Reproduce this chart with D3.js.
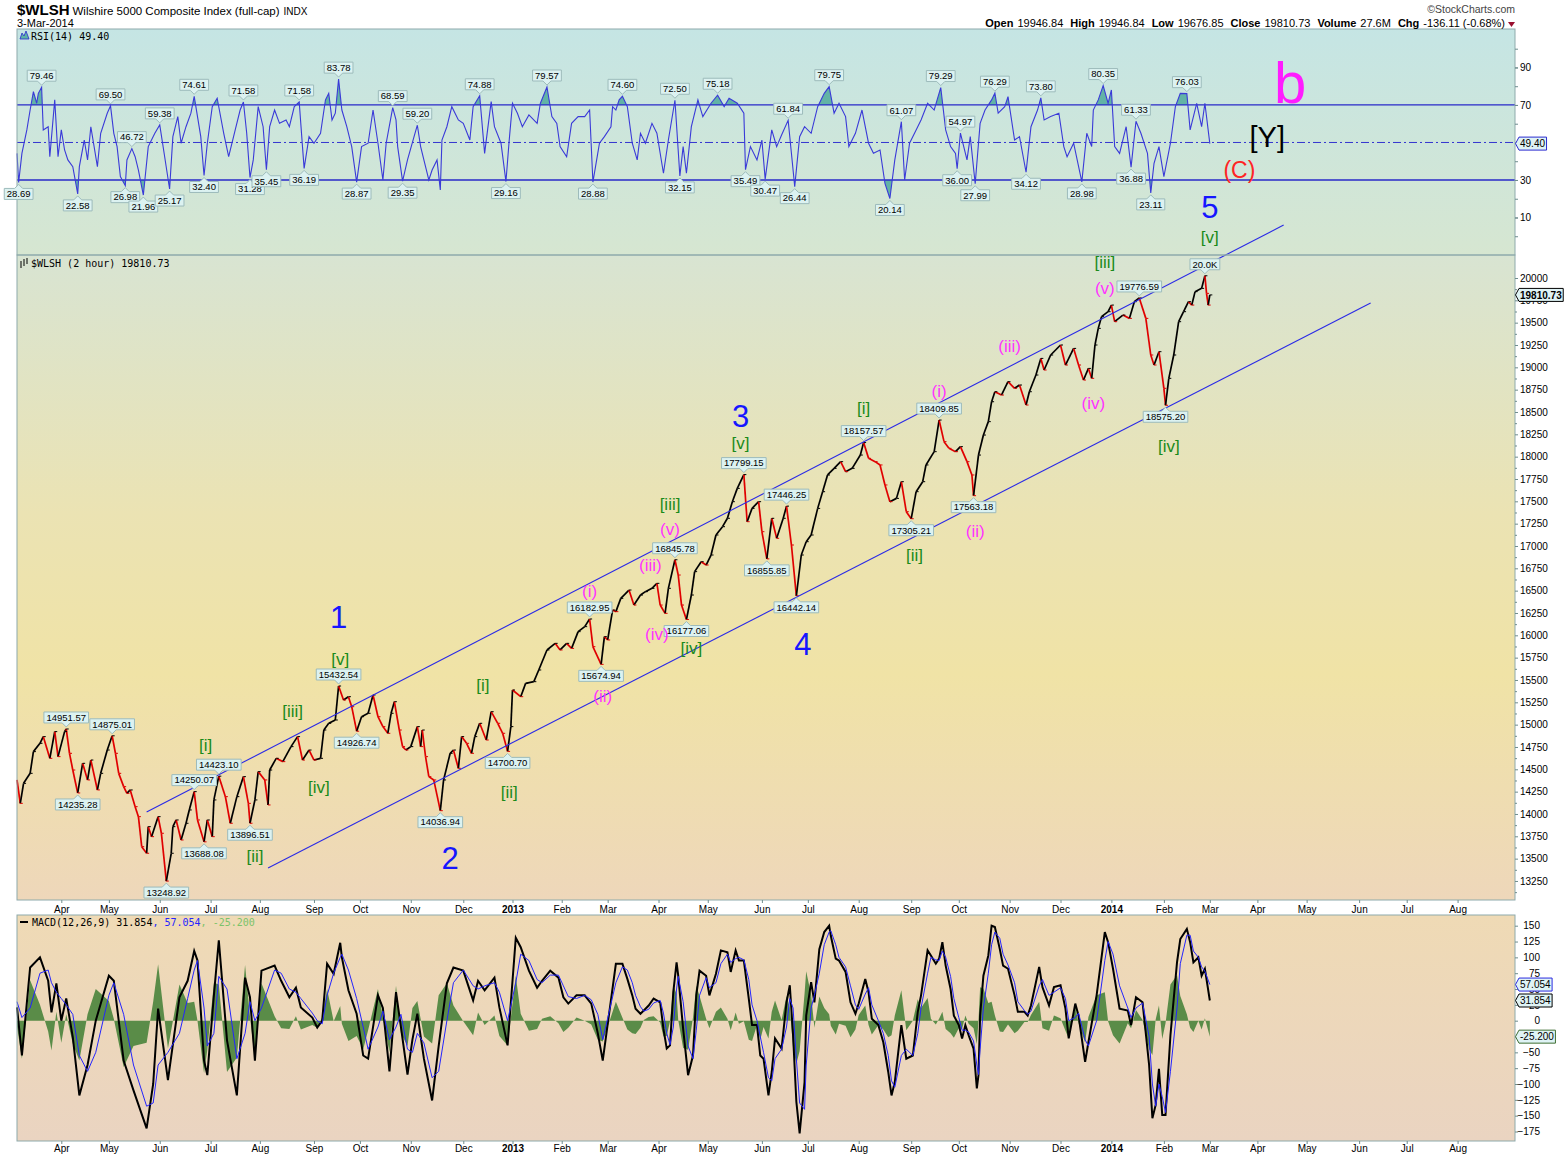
<!DOCTYPE html>
<html>
<head>
<meta charset="utf-8">
<title>$WLSH Wilshire 5000 - 2 hour</title>
<script src="https://d3js.org/d3.v7.min.js"></script>
<style>
  body { margin: 0; background: #fff; }
  svg text { font-family: "Liberation Sans", Arial, sans-serif; }
  .mono { font-family: "DejaVu Sans Mono", monospace; }
</style>
</head>
<body>
<svg id="chart" width="1565" height="1157"></svg>
<script>
// ---- price (2 hour bars) ----
const priceDates = [
  "2012-03-06","2012-03-08","2012-03-10","2012-03-14","2012-03-16","2012-03-20","2012-03-22","2012-03-26","2012-03-29","2012-03-31",
  "2012-04-04","2012-04-05","2012-04-07","2012-04-09","2012-04-12","2012-04-15","2012-04-18","2012-04-20","2012-04-24","2012-04-26",
  "2012-04-30","2012-05-03","2012-05-05","2012-05-07","2012-05-10","2012-05-12","2012-05-14","2012-05-17","2012-05-19","2012-05-21",
  "2012-05-24","2012-05-25","2012-05-27","2012-05-31","2012-06-02","2012-06-05","2012-06-08","2012-06-09","2012-06-11","2012-06-14",
  "2012-06-17","2012-06-19","2012-06-22","2012-06-24","2012-06-28","2012-06-30","2012-07-03","2012-07-04","2012-07-07","2012-07-11",
  "2012-07-14","2012-07-18","2012-07-22","2012-07-25","2012-07-26","2012-07-29","2012-07-31","2012-08-04","2012-08-06","2012-08-07",
  "2012-08-11","2012-08-15","2012-08-20","2012-08-24","2012-08-27","2012-08-31","2012-09-03","2012-09-07","2012-09-09","2012-09-12",
  "2012-09-16","2012-09-18","2012-09-21","2012-09-24","2012-09-26","2012-09-29","2012-10-02","2012-10-06","2012-10-09","2012-10-12",
  "2012-10-15","2012-10-18","2012-10-20","2012-10-22","2012-10-25","2012-10-27","2012-10-29","2012-11-01","2012-11-05","2012-11-07",
  "2012-11-08","2012-11-10","2012-11-12","2012-11-15","2012-11-19","2012-11-21","2012-11-25","2012-11-27","2012-11-30","2012-12-02",
  "2012-12-05","2012-12-08","2012-12-10","2012-12-13","2012-12-17","2012-12-20","2012-12-24","2012-12-27","2012-12-30","2013-01-01",
  "2013-01-02","2013-01-07","2013-01-10","2013-01-15","2013-01-18","2013-01-23","2013-01-28","2013-01-31","2013-02-04","2013-02-07",
  "2013-02-11","2013-02-15","2013-02-18","2013-02-20","2013-02-25","2013-02-27","2013-03-01","2013-03-04","2013-03-06","2013-03-09",
  "2013-03-14","2013-03-17","2013-03-21","2013-03-24","2013-03-28","2013-03-31","2013-04-02","2013-04-05","2013-04-07","2013-04-11",
  "2013-04-13","2013-04-15","2013-04-18","2013-04-21","2013-04-23","2013-04-27","2013-04-30","2013-05-03","2013-05-06","2013-05-10",
  "2013-05-13","2013-05-16","2013-05-19","2013-05-23","2013-05-25","2013-05-28","2013-06-01","2013-06-03","2013-06-06","2013-06-09",
  "2013-06-12","2013-06-16","2013-06-18","2013-06-21","2013-06-24","2013-06-27","2013-06-30","2013-07-03","2013-07-07","2013-07-10",
  "2013-07-13","2013-07-17","2013-07-21","2013-07-24","2013-07-28","2013-08-02","2013-08-04","2013-08-07","2013-08-11","2013-08-14",
  "2013-08-17","2013-08-20","2013-08-24","2013-08-27","2013-08-30","2013-09-02","2013-09-05","2013-09-09","2013-09-11","2013-09-16",
  "2013-09-19","2013-09-22","2013-09-25","2013-09-29","2013-10-02","2013-10-06","2013-10-09","2013-10-10","2013-10-13","2013-10-16",
  "2013-10-19","2013-10-21","2013-10-23","2013-10-27","2013-10-31","2013-11-04","2013-11-07","2013-11-11","2013-11-13","2013-11-17",
  "2013-11-20","2013-11-22","2013-11-26","2013-12-02","2013-12-05","2013-12-10","2013-12-13","2013-12-16","2013-12-19","2013-12-21",
  "2013-12-23","2013-12-25","2013-12-27","2013-12-31","2014-01-02","2014-01-04","2014-01-09","2014-01-13","2014-01-16","2014-01-19",
  "2014-01-23","2014-01-26","2014-01-28","2014-01-31","2014-02-03","2014-02-04","2014-02-06","2014-02-09","2014-02-12","2014-02-15",
  "2014-02-18","2014-02-20","2014-02-22","2014-02-26","2014-02-28","2014-03-01","2014-03-02","2014-03-03"
];
const priceClose = [
  14381,14119,14343,14455,14698,14791,14866,14623,14922,14642,
  14922,14951.57,14679,14492,14235.28,14567,14381,14604,14269,14455,
  14716,14875.01,14679,14455,14306,14231,14269,14082,13970,13634,
  13560,13858,13746,13970,13784,13248.92,13560,13858,13933,13709,
  13896,14045,14250.07,13933,13688.08,13933,13746,14157,14423.10,14194,
  13896,14194,14418,14119,13896.51,14157,14474,14381,14101,14492,
  14623,14586,14754,14866,14604,14716,14604,14623,14940,15015,
  15052,15432.54,15276,15313,15201,14926.74,15089,15127,15332,15089,
  14978,14903,15127,15257,14940,14754,14716,14754,14978,14754,
  14940,14642,14418,14381,14036.94,14381,14679,14716,14511,14866,
  14791,14679,14866,15015,14828,15145,15015,14903,14700.70,14978,
  15388,15313,15462,15481,15612,15836,15910,15836,15910,15854,
  16041,16097,16182.95,15873,15674.94,15985,15948,16283,16265,16414,
  16507,16339,16451,16489,16526,16582,16339,16246,16526,16845.78,
  16675,16339,16177.06,16451,16713,16824,16787,16899,17123,17216,
  17310,17496,17645,17799.15,17272,17421,17496,17160,16855.85,17310,
  17086,17310,17446.25,17011,16442.14,16899,17048,17123,17421,17608,
  17795,17869,17944,17832,17869,18018,18157.57,17981,17944,17907,
  17683,17496,17533,17720,17384,17305.21,17608,17720,17907,18056,
  18409.85,18168,18093,18056,18112,17944,17795,17563.18,18018,18242,
  18392,18615,18727,18690,18839,18765,18802,18578,18727,18914,
  19100,18970,19138,19250,19026,19212,19026,18858,18988,18877,
  19250,19436,19567,19623,19697,19511,19585,19548,19735,19776.59,
  19548,19138,19026,19175,18765,18575.20,18877,19138,19511,19623,
  19735,19697,19847,19884,20025,19828,19697,19810.73
];
// labelled pivots on the price pane (h = label above, l = label below)
const priceTagDates = ["2012-04-05","2012-04-12","2012-05-03","2012-06-05","2012-06-22","2012-06-28","2012-07-07","2012-07-26",
  "2012-09-18","2012-09-29","2012-11-19","2012-12-30","2013-02-18","2013-02-25","2013-04-11","2013-04-18","2013-05-23",
  "2013-06-06","2013-06-18","2013-06-24","2013-08-04","2013-09-02","2013-09-19","2013-10-10","2014-01-19","2014-02-04","2014-02-28"];
const priceTagSide = ["h","l","h","l","h","l","h","l","h","l","l","l","h","l","h","l","h","l","h","l","h","l","h","l","h","l","h"];

// ---- RSI(14) ----
const rsiDates = [
  "2012-03-06","2012-03-07","2012-03-09","2012-03-12","2012-03-14","2012-03-16","2012-03-18","2012-03-19","2012-03-21","2012-03-22",
  "2012-03-25","2012-03-26","2012-03-29","2012-03-31","2012-04-02","2012-04-04","2012-04-06","2012-04-09","2012-04-12","2012-04-13",
  "2012-04-16","2012-04-18","2012-04-20","2012-04-24","2012-04-26","2012-04-30","2012-05-02","2012-05-04","2012-05-06","2012-05-08",
  "2012-05-11","2012-05-12","2012-05-15","2012-05-17","2012-05-19","2012-05-22","2012-05-25","2012-05-29","2012-06-01","2012-06-04",
  "2012-06-07","2012-06-09","2012-06-12","2012-06-14","2012-06-17","2012-06-20","2012-06-22","2012-06-26","2012-06-28","2012-06-30",
  "2012-07-03","2012-07-06","2012-07-10","2012-07-13","2012-07-17","2012-07-20","2012-07-22","2012-07-24","2012-07-26","2012-07-28",
  "2012-07-31","2012-08-03","2012-08-05","2012-08-07","2012-08-10","2012-08-13","2012-08-17","2012-08-19","2012-08-22","2012-08-25",
  "2012-08-27","2012-08-28","2012-08-31","2012-09-03","2012-09-07","2012-09-10","2012-09-12","2012-09-14","2012-09-16","2012-09-18",
  "2012-09-20","2012-09-23","2012-09-26","2012-09-29","2012-10-02","2012-10-06","2012-10-09","2012-10-12","2012-10-15","2012-10-17",
  "2012-10-21","2012-10-23","2012-10-24","2012-10-27","2012-10-30","2012-11-03","2012-11-05","2012-11-07","2012-11-10","2012-11-12",
  "2012-11-14","2012-11-17","2012-11-19","2012-11-20","2012-11-23","2012-11-26","2012-11-30","2012-12-03","2012-12-07","2012-12-09",
  "2012-12-13","2012-12-16","2012-12-20","2012-12-22","2012-12-26","2012-12-29","2012-12-31","2013-01-02","2013-01-05","2013-01-08",
  "2013-01-12","2013-01-17","2013-01-19","2013-01-23","2013-01-26","2013-01-29","2013-01-31","2013-02-04","2013-02-07","2013-02-11",
  "2013-02-15","2013-02-18","2013-02-20","2013-02-24","2013-02-27","2013-03-03","2013-03-04","2013-03-06","2013-03-08","2013-03-10",
  "2013-03-13","2013-03-16","2013-03-19","2013-03-21","2013-03-24","2013-03-28","2013-03-31","2013-04-04","2013-04-07","2013-04-11",
  "2013-04-14","2013-04-16","2013-04-18","2013-04-21","2013-04-25","2013-04-28","2013-05-03","2013-05-07","2013-05-11","2013-05-14",
  "2013-05-19","2013-05-23","2013-05-24","2013-05-27","2013-05-31","2013-06-03","2013-06-05","2013-06-09","2013-06-12","2013-06-15",
  "2013-06-19","2013-06-22","2013-06-23","2013-06-26","2013-06-29","2013-07-03","2013-07-07","2013-07-11","2013-07-14","2013-07-17",
  "2013-07-20","2013-07-24","2013-07-26","2013-07-30","2013-08-03","2013-08-07","2013-08-10","2013-08-14","2013-08-17","2013-08-20",
  "2013-08-23","2013-08-27","2013-08-29","2013-09-01","2013-09-05","2013-09-08","2013-09-12","2013-09-16","2013-09-20","2013-09-23",
  "2013-09-26","2013-09-29","2013-09-30","2013-10-02","2013-10-06","2013-10-08","2013-10-11","2013-10-14","2013-10-17","2013-10-21",
  "2013-10-23","2013-10-25","2013-10-29","2013-10-31","2013-11-04","2013-11-07","2013-11-11","2013-11-14","2013-11-18","2013-11-20",
  "2013-11-22","2013-11-26","2013-12-01","2013-12-04","2013-12-06","2013-12-10","2013-12-15","2013-12-18","2013-12-21","2013-12-22",
  "2013-12-25","2013-12-28","2013-12-31","2014-01-02","2014-01-04","2014-01-07","2014-01-11","2014-01-14","2014-01-17","2014-01-20",
  "2014-01-24","2014-01-26","2014-01-28","2014-01-31","2014-02-03","2014-02-07","2014-02-10","2014-02-13","2014-02-17","2014-02-19",
  "2014-02-23","2014-02-26","2014-02-28","2014-03-03"
];
const rsiValues = [
  44.2,28.69,44.2,56.7,67.3,77.1,70.9,76.2,79.46,56.7,
  58.4,42.4,72.7,42.4,56.7,46.0,40.7,37.1,22.58,37.1,
  51.3,40.7,58.4,37.1,54.9,65.6,69.50,54.9,47.8,31.8,
  26.98,40.7,46.72,42.4,35.3,21.96,47.8,54.9,59.38,42.4,
  25.17,53.1,63.8,49.6,58.4,65.6,74.61,53.1,32.40,49.6,
  69.1,73.6,54.9,42.4,56.7,67.3,71.58,54.9,31.28,40.7,
  69.1,58.4,35.45,58.4,67.3,60.2,62.0,58.4,69.1,71.58,
  47.8,36.19,53.1,49.6,54.9,72.7,76.2,62.0,65.6,83.78,
  67.3,58.4,47.8,28.87,47.8,49.6,67.3,49.6,30.0,49.6,
  68.59,62.0,47.8,29.35,40.7,53.1,59.20,47.8,37.1,30.0,
  35.3,40.7,24.7,51.3,58.4,69.1,62.0,60.2,51.3,69.1,
  74.88,44.2,71.8,58.4,49.6,29.16,51.3,70.9,65.6,58.4,
  64.7,60.2,70.9,79.57,63.8,60.2,47.8,42.4,60.2,63.8,
  63.8,67.3,28.88,49.6,53.1,58.4,69.1,67.3,72.7,74.60,
  69.1,49.6,40.7,54.9,49.6,60.2,54.9,33.6,51.3,72.50,
  32.15,47.8,33.6,58.4,72.7,63.8,70.9,75.18,69.1,73.6,
  70.9,65.6,35.49,47.8,40.7,51.3,30.47,56.7,47.8,54.0,
  61.84,35.3,26.44,53.1,58.4,54.9,69.1,76.2,79.75,65.6,
  70.9,63.8,47.8,54.9,67.3,49.6,44.2,46.0,28.2,20.14,
  40.7,61.07,30.0,49.6,56.7,62.0,70.9,67.3,79.29,56.7,
  47.8,44.2,36.00,54.97,40.7,53.1,27.99,60.2,67.3,72.7,
  76.29,65.6,69.1,74.4,51.3,53.1,34.12,58.4,67.3,73.80,
  62.0,63.8,65.6,47.8,42.4,49.6,28.98,54.9,47.8,67.3,
  72.7,80.35,70.9,78.0,47.8,44.2,58.4,36.88,61.33,54.9,
  44.2,23.11,38.9,47.8,31.8,49.6,69.1,76.2,76.03,56.7,
  70.9,58.4,70.9,49.40
];
const rsiTagDates = ["2012-03-07","2012-03-21","2012-04-12","2012-05-02","2012-05-11","2012-05-15","2012-05-22","2012-06-01","2012-06-07",
  "2012-06-22","2012-06-28","2012-07-22","2012-07-26","2012-08-05","2012-08-25","2012-08-28","2012-09-18","2012-09-29","2012-10-21",
  "2012-10-27","2012-11-05","2012-12-13","2012-12-29","2013-01-23","2013-02-20","2013-03-10","2013-04-11","2013-04-14","2013-05-07",
  "2013-05-24","2013-06-05","2013-06-19","2013-06-23","2013-07-14","2013-08-20","2013-08-27","2013-09-20","2013-09-30","2013-10-02",
  "2013-10-11","2013-10-23","2013-11-11","2013-11-20","2013-12-15","2013-12-28","2014-01-14","2014-01-17","2014-01-26","2014-02-17"];
const rsiTagSide = ["l","h","l","h","l","h","l","h","l",
  "h","l","h","l","l","h","l","h","l","h",
  "l","h","h","l","h","l","h","h","l","h",
  "l","l","h","l","h","l","h","h","l","h",
  "l","h","l","h","l","h","l","h","l","h"];

// ---- MACD(12,26,9) line and signal ----
const macdDates = [
  "2012-03-06","2012-03-09","2012-03-14","2012-03-20","2012-03-25","2012-03-27","2012-03-30","2012-04-02","2012-04-05","2012-04-09",
  "2012-04-13","2012-04-18","2012-04-23","2012-05-01","2012-05-04","2012-05-10","2012-05-16","2012-05-24","2012-05-28","2012-05-31",
  "2012-06-06","2012-06-13","2012-06-18","2012-06-22","2012-06-24","2012-06-28","2012-06-30","2012-07-04","2012-07-07","2012-07-12",
  "2012-07-18","2012-07-23","2012-07-26","2012-07-29","2012-08-02","2012-08-10","2012-08-14","2012-08-19","2012-08-23","2012-08-26",
  "2012-09-02","2012-09-05","2012-09-08","2012-09-11","2012-09-15","2012-09-19","2012-09-20","2012-09-24","2012-09-29","2012-10-03",
  "2012-10-06","2012-10-12","2012-10-15","2012-10-19","2012-10-23","2012-10-26","2012-10-30","2012-11-02","2012-11-05","2012-11-09",
  "2012-11-14","2012-11-18","2012-11-23","2012-11-27","2012-12-03","2012-12-09","2012-12-12","2012-12-16","2012-12-22","2012-12-25",
  "2012-12-30","2013-01-04","2013-01-07","2013-01-12","2013-01-17","2013-01-20","2013-01-25","2013-01-30","2013-02-02","2013-02-05",
  "2013-02-10","2013-02-15","2013-02-19","2013-02-23","2013-02-26","2013-03-06","2013-03-10","2013-03-13","2013-03-16","2013-03-18",
  "2013-03-21","2013-03-23","2013-03-26","2013-03-29","2013-04-02","2013-04-04","2013-04-06","2013-04-08","2013-04-10","2013-04-12",
  "2013-04-13","2013-04-16","2013-04-19","2013-04-22","2013-04-24","2013-04-26","2013-04-30","2013-05-02","2013-05-06","2013-05-09",
  "2013-05-13","2013-05-15","2013-05-18","2013-05-20","2013-05-23","2013-05-26","2013-05-28","2013-05-31","2013-06-02","2013-06-04",
  "2013-06-07","2013-06-09","2013-06-11","2013-06-15","2013-06-18","2013-06-20","2013-06-22","2013-06-24","2013-06-26","2013-06-29",
  "2013-06-30","2013-07-03","2013-07-05","2013-07-08","2013-07-11","2013-07-14","2013-07-15","2013-07-18","2013-07-20","2013-07-24",
  "2013-07-27","2013-07-30","2013-08-01","2013-08-05","2013-08-07","2013-08-09","2013-08-13","2013-08-16","2013-08-19","2013-08-21",
  "2013-08-23","2013-08-27","2013-08-30","2013-09-03","2013-09-06","2013-09-08","2013-09-12","2013-09-14","2013-09-17","2013-09-19",
  "2013-09-21","2013-09-23","2013-09-26","2013-09-28","2013-10-01","2013-10-03","2013-10-05","2013-10-07","2013-10-10","2013-10-12",
  "2013-10-13","2013-10-14","2013-10-16","2013-10-19","2013-10-21","2013-10-23","2013-10-26","2013-10-28","2013-10-31","2013-11-04",
  "2013-11-06","2013-11-10","2013-11-12","2013-11-14","2013-11-19","2013-11-21","2013-11-25","2013-11-28","2013-12-02","2013-12-05",
  "2013-12-07","2013-12-11","2013-12-13","2013-12-17","2013-12-19","2013-12-24","2013-12-29","2013-12-31","2014-01-03","2014-01-07",
  "2014-01-12","2014-01-14","2014-01-17","2014-01-21","2014-01-25","2014-01-27","2014-01-29","2014-01-31","2014-02-02","2014-02-04",
  "2014-02-07","2014-02-11","2014-02-13","2014-02-17","2014-02-19","2014-02-21","2014-02-24","2014-02-26","2014-02-28","2014-03-03"
];
const macdValues = [
  21,-55,84,100,63,13,59,0,35,-26,
  -118,-70,0,71,63,-63,-110,-170,-100,19,
  -94,37,63,110,95,-63,-86,40,127,-31,
  -118,68,37,-63,79,87,63,37,52,21,
  5,-11,0,90,74,123,100,48,11,-55,
  -60,40,20,-80,45,-10,-85,-30,11,-60,
  -126,-40,59,84,79,32,63,48,68,21,
  -39,131,116,79,52,63,79,68,37,27,
  40,40,27,-20,-63,89.8,89.8,66,40,19,
  11,16,24,35,29,-13,-44,-39,45,92,
  71,-13,-86,-55,40,79,71,40,74,111,
  108,77,111,95,95,35,-7,-7,-55,-60,
  -118,-81,-28,-44,29,56,-23,-128,-178,-97,
  8,61,29,113,140,150,134,98,95,77,
  29,11,27,66,45,3,-7,-34,-81,-118,
  -97,-7,-60,-55,14,40,111,103,90,98,
  124,87,50,8,-7,-28,-7,-23,-44,-107,
  -86,8,71,103,150,148,113,87,82,40,
  14,14,8,24,85,53,24,53,56,19,
  -28,27,8,-65,-34,40,140,124,82,19,
  16,-7,37,29,-70,-154,-133,-76,-149,-149,
  -23,92,129,145,124,92,100,71,82,31.854
];
const signalValues = [
  30,5,20,75,80,60,45,35,25,10,
  -55,-80,-50,40,60,10,-70,-135,-130,-70,
  -50,-20,35,80,95,20,-40,-20,70,50,
  -60,-20,30,0,20,80,75,50,45,35,
  12,0,-5,40,75,100,105,80,35,-10,
  -45,-10,15,-30,-10,10,-45,-50,-20,-35,
  -90,-80,0,60,80,55,50,55,60,45,
  0,60,105,95,65,60,72,72,55,38,
  35,40,33,10,-30,60,85,80,60,40,
  22,15,18,28,32,12,-20,-38,-10,50,
  70,30,-40,-60,-15,40,68,52,60,90,
  105,92,98,100,96,65,25,0,-25,-50,
  -90,-95,-60,-45,-10,35,20,-60,-130,-140,
  -70,20,40,75,120,140,142,120,100,85,
  55,25,18,42,52,25,0,-20,-55,-95,
  -105,-55,-45,-55,-20,20,75,100,96,95,
  110,100,70,35,5,-15,-15,-18,-32,-70,
  -85,-45,20,75,120,140,130,105,88,60,
  30,16,10,15,55,65,40,45,52,35,
  0,5,12,-30,-40,0,95,125,105,55,
  20,5,20,28,-25,-100,-135,-100,-120,-145,
  -80,20,90,135,135,110,100,85,78,57.054
];

// ---- Elliott wave notes and channel ----
const waveDates = ["2012-09-18","2012-09-19","2012-08-21","2012-06-29","2012-07-29","2012-09-06","2012-11-25","2012-12-15","2012-12-31",
  "2013-02-18","2013-02-26","2013-03-27","2013-03-31","2013-04-08","2013-04-08","2013-04-21","2013-05-21","2013-05-21","2013-06-28",
  "2013-08-04","2013-09-04","2013-09-19","2013-10-11","2013-11-01","2013-12-22","2013-12-29","2013-12-29","2014-02-06","2014-03-03",
  "2014-03-03","2014-04-07","2014-03-21","2014-04-21"];
const wavePrices = [16205,15724,15142,14772,13519,14291,13507,15433,14246,
  16485,15310,16776,16004,17179,17470,15858,18444,18142,15892,
  18534,16888,18724,17157,19228,18590,19877,20168,18119,20784,
  20459,21578,21209,22183];
const waveLabels = ["1","[v]","[iii]","[i]","[ii]","[iv]","2","[i]","[ii]",
  "(i)","(ii)","(iii)","(iv)","(v)","[iii]","[iv]","3","[v]","4",
  "[i]","[ii]","(i)","(ii)","(iii)","(iv)","(v)","[iii]","[iv]","5",
  "[v]","[Y]","(C)","b"];
const channelStartDates = ["2012-05-24","2012-08-06"];
const channelStartPrices = [14022, 13396];
const channelEndDates = ["2014-04-17","2014-06-09"];
const channelEndPrices = [20593, 19720];

// axis ticks
const priceTicks = [13250,13500,13750,14000,14250,14500,14750,15000,15250,15500,15750,16000,16250,16500,16750,
  17000,17250,17500,17750,18000,18250,18500,18750,19000,19250,19500,19750,20000];
const rsiTicks = [10,30,70,90];
const rsiMinor = [0,10,20,30,40,50,60,70,80,90,100];
const macdTicks = [-175,-150,-125,-100,-75,-50,-25,0,25,50,75,100,125,150];

// ---------------------------------------------------------------
const parse = d3.timeParse("%Y-%m-%d");
const svg = d3.select("#chart");
const L = 17, R = 1515;
const rsiTop = 29, rsiBot = 255, pTop = 255, pBot = 900, mTop = 915, mBot = 1141;

const x = d3.scaleTime().domain([new Date(2012, 2, 6), new Date(2014, 8, 5)]).range([L, R]);
const yR = d3.scaleLinear().domain([-10, 110.5]).range([rsiBot, rsiTop]);
const yP = d3.scaleLinear().domain([13037, 20257.5]).range([pBot, pTop]);
const yM = d3.scaleLinear().domain([-190, 166.9]).range([mBot, mTop]);

const price = priceDates.map((d, i) => ({ d: parse(d), v: priceClose[i] }));
const rsi = rsiDates.map((d, i) => ({ d: parse(d), v: rsiValues[i] }));
const macd = macdDates.map((d, i) => ({ d: parse(d), m: macdValues[i], s: signalValues[i], h: macdValues[i] - signalValues[i] }));
const priceByDate = new Map(priceDates.map((d, i) => [d, priceClose[i]]));
const rsiByDate = new Map(rsiDates.map((d, i) => [d, rsiValues[i]]));

// backgrounds
const defs = svg.append("defs");
function vgrad(id, stops) {
  const g = defs.append("linearGradient").attr("id", id).attr("x1", 0).attr("y1", 0).attr("x2", 0).attr("y2", 1);
  stops.forEach(s => g.append("stop").attr("offset", s[0]).attr("stop-color", s[1]));
}
vgrad("gRsi", [[0, "#c5e5e4"], [1, "#d6e6d1"]]);
vgrad("gPrice", [[0, "#d8e4d2"], [0.4, "#ebe3b3"], [0.65, "#f0e3a6"], [1, "#eed7ba"]]);
vgrad("gMacd", [[0, "#efdab5"], [1, "#ead4c1"]]);

svg.append("rect").attr("x", L).attr("y", rsiTop).attr("width", R - L).attr("height", rsiBot - rsiTop).attr("fill", "url(#gRsi)");
svg.append("rect").attr("x", L).attr("y", pTop).attr("width", R - L).attr("height", pBot - pTop).attr("fill", "url(#gPrice)");
svg.append("rect").attr("x", L).attr("y", mTop).attr("width", R - L).attr("height", mBot - mTop).attr("fill", "url(#gMacd)");

// ---------------- RSI pane ----------------
defs.append("clipPath").attr("id", "above70").append("rect")
  .attr("x", L).attr("y", rsiTop).attr("width", R - L).attr("height", yR(70) - rsiTop);
defs.append("clipPath").attr("id", "below30").append("rect")
  .attr("x", L).attr("y", yR(30)).attr("width", R - L).attr("height", rsiBot - yR(30));

svg.append("path").datum(rsi).attr("clip-path", "url(#above70)").attr("fill", "#62b3a6")
  .attr("d", d3.area().x(d => x(d.d)).y0(yR(70)).y1(d => yR(d.v)));
svg.append("path").datum(rsi).attr("clip-path", "url(#below30)").attr("fill", "#62b3a6")
  .attr("d", d3.area().x(d => x(d.d)).y0(yR(30)).y1(d => yR(d.v)));

[70, 30].forEach(v => svg.append("line").attr("x1", L).attr("x2", R).attr("y1", yR(v)).attr("y2", yR(v))
  .attr("stroke", "#2828c8").attr("stroke-width", 1.3));
svg.append("line").attr("x1", L).attr("x2", R).attr("y1", yR(50)).attr("y2", yR(50))
  .attr("stroke", "#3434d0").attr("stroke-width", 1).attr("stroke-dasharray", "8,3,2,3");

svg.append("path").datum(rsi).attr("fill", "none").attr("stroke", "#3a3ad8").attr("stroke-width", 1.1)
  .attr("d", d3.line().x(d => x(d.d)).y(d => yR(d.v)));

// ---------------- price pane ----------------
const pg = svg.append("g");
pg.selectAll("line.seg").data(d3.pairs(price)).join("line").attr("class", "seg")
  .attr("x1", p => x(p[0].d)).attr("y1", p => yP(p[0].v))
  .attr("x2", p => x(p[1].d)).attr("y2", p => yP(p[1].v))
  .attr("stroke", p => p[1].v >= p[0].v ? "#000" : "#e00000").attr("stroke-width", 1.7);
pg.selectAll("line.tk").data(d3.pairs(price)).join("line").attr("class", "tk")
  .attr("x1", p => x(p[1].d)).attr("x2", p => x(p[1].d) + 2.5)
  .attr("y1", p => yP(p[1].v)).attr("y2", p => yP(p[1].v))
  .attr("stroke", p => p[1].v >= p[0].v ? "#000" : "#e00000").attr("stroke-width", 1);

// channel lines
channelStartDates.forEach((d, i) => {
  svg.append("line")
    .attr("x1", x(parse(d))).attr("y1", yP(channelStartPrices[i]))
    .attr("x2", x(parse(channelEndDates[i]))).attr("y2", yP(channelEndPrices[i]))
    .attr("stroke", "#2a2ae6").attr("stroke-width", 1.1);
});

// ---------------- MACD pane ----------------
svg.append("path").datum(macd).attr("fill", "#5a8c48")
  .attr("d", d3.area().x(d => x(d.d)).y0(yM(0)).y1(d => yM(d.h)));
svg.append("path").datum(macd).attr("fill", "none").attr("stroke", "#000").attr("stroke-width", 2)
  .attr("d", d3.line().x(d => x(d.d)).y(d => yM(d.m)));
svg.append("path").datum(macd).attr("fill", "none").attr("stroke", "#2424ff").attr("stroke-width", 1)
  .attr("d", d3.line().x(d => x(d.d)).y(d => yM(d.s)));

// panel borders
[[rsiTop, rsiBot], [pTop, pBot], [mTop, mBot]].forEach(b => {
  svg.append("rect").attr("x", L).attr("y", b[0]).attr("width", R - L).attr("height", b[1] - b[0])
    .attr("fill", "none").attr("stroke", "#8eaaab").attr("stroke-width", 1);
});

// ---------------- value tags ----------------
function tag(g, cx, cy, label, side) {
  const grp = g.append("g");
  const t = grp.append("text").attr("x", cx).attr("text-anchor", "middle").attr("font-size", 9.5).attr("fill", "#000").text(label);
  const w = t.node().getComputedTextLength() + 5, h = 11, p = 4;
  const boxY = side === "h" ? cy - 2 - p - h : cy + 2 + p;
  const x0 = cx - w / 2, x1 = cx + w / 2;
  const pts = side === "h"
    ? [[x0, boxY], [x1, boxY], [x1, boxY + h], [cx + p, boxY + h], [cx, boxY + h + p], [cx - p, boxY + h], [x0, boxY + h]]
    : [[x0, boxY], [cx - p, boxY], [cx, boxY - p], [cx + p, boxY], [x1, boxY], [x1, boxY + h], [x0, boxY + h]];
  grp.insert("polygon", "text").attr("points", pts.map(q => q.join(",")).join(" "))
    .attr("fill", "#dcf2f1").attr("stroke", "#9dbbbb").attr("stroke-width", 1);
  t.attr("y", boxY + h - 2.2);
}
const tagLayer = svg.append("g");
priceTagDates.forEach((d, i) => {
  const v = priceByDate.get(d);
  const label = v >= 20000 ? (v / 1000).toFixed(1) + "K" : v.toFixed(2);
  tag(tagLayer, x(parse(d)), yP(v), label, priceTagSide[i]);
});
rsiTagDates.forEach((d, i) => {
  const v = rsiByDate.get(d);
  tag(tagLayer, x(parse(d)), yR(v), v.toFixed(2), rsiTagSide[i]);
});

// ---------------- wave labels ----------------
function waveStyle(s) {
  if (/^\d$/.test(s)) return { fill: "#1616ff", size: 31 };
  if (s === "[Y]") return { fill: "#000", size: 29 };
  if (s === "(C)") return { fill: "#ff2424", size: 23 };
  if (s === "b") return { fill: "#ff1cff", size: 58 };
  if (s[0] === "[") return { fill: "#1a8a1a", size: 17 };
  return { fill: "#ff33ff", size: 17 };
}
waveLabels.forEach((s, i) => {
  const st = waveStyle(s);
  svg.append("text").attr("x", x(parse(waveDates[i]))).attr("y", yP(wavePrices[i]))
    .attr("text-anchor", "middle").attr("dominant-baseline", "central")
    .attr("font-size", st.size).attr("fill", st.fill).text(s);
});

// ---------------- axes ----------------
function styleAxis(g) {
  g.select(".domain").remove();
  g.attr("font-family", "Liberation Sans, Arial, sans-serif").attr("font-size", 10);
  g.selectAll(".tick line").attr("stroke", "#6f8d8e");
  g.selectAll(".tick text").attr("fill", "#000");
}
// price axis
svg.append("g").attr("transform", `translate(${R},0)`)
  .call(d3.axisRight(yP).tickValues(priceTicks.map(v => v - 125).filter(v => v > 13037)).tickSize(2).tickFormat(""))
  .call(styleAxis);
svg.append("g").attr("transform", `translate(${R},0)`)
  .call(d3.axisRight(yP).tickValues(priceTicks).tickSize(3).tickPadding(2).tickFormat(d3.format("d")))
  .call(styleAxis);
// rsi axis
svg.append("g").attr("transform", `translate(${R},0)`)
  .call(d3.axisRight(yR).tickValues(rsiMinor).tickSize(3).tickFormat(""))
  .call(styleAxis);
svg.append("g").attr("transform", `translate(${R},0)`)
  .call(d3.axisRight(yR).tickValues(rsiTicks).tickSize(3).tickPadding(2))
  .call(styleAxis);
// macd axis
const macdAxis = svg.append("g").attr("transform", `translate(${R},0)`)
  .call(d3.axisRight(yM).tickValues(macdTicks).tickSize(3).tickPadding(2))
  .call(styleAxis);
macdAxis.selectAll(".tick text").attr("text-anchor", "end").attr("x", 25);

// date axes, ticks on the first trading day of each month
function firstTradingDay(m) {
  const d = new Date(m);
  if (d.getMonth() === 0) d.setDate(2);
  while (d.getDay() === 0 || d.getDay() === 6) d.setDate(d.getDate() + 1);
  return d;
}
const monthTicks = d3.timeMonth.range(new Date(2012, 3, 1), new Date(2014, 8, 1)).map(firstTradingDay);
const fmtMonth = d => d.getMonth() === 0 ? d3.timeFormat("%Y")(d) : d3.timeFormat("%b")(d);
[[pBot, 3], [mBot, 1]].forEach(a => {
  svg.append("g").attr("transform", `translate(0,${a[0]})`)
    .call(d3.axisBottom(x).tickValues(monthTicks).tickSize(3).tickPadding(a[1]).tickFormat(fmtMonth))
    .call(styleAxis)
    .selectAll(".tick text").attr("font-weight", d => d.getMonth() === 0 ? "bold" : null);
});

// ---------------- right-axis value markers ----------------
function marker(y, label, stroke, bold) {
  const grp = svg.append("g");
  const t = grp.append("text").attr("x", 1520).attr("y", y + 3.6)
    .attr("font-size", 10).attr("font-weight", bold ? "bold" : null).attr("fill", "#000").text(label);
  const w = t.node().getComputedTextLength();
  const pts = [[1515.5, y], [1519, y - 6.5], [1521.5 + w, y - 6.5], [1521.5 + w, y + 6.5], [1519, y + 6.5]];
  grp.insert("polygon", "text").attr("points", pts.map(q => q.join(",")).join(" "))
    .attr("fill", "#dff3f5").attr("stroke", stroke).attr("stroke-width", 1);
}
const lastPrice = priceClose[priceClose.length - 1];
const lastRsi = rsiValues[rsiValues.length - 1];
const lastMacd = macdValues[macdValues.length - 1];
const lastSignal = signalValues[signalValues.length - 1];
marker(yP(lastPrice), lastPrice.toFixed(2), "#000", true);
marker(yR(lastRsi), lastRsi.toFixed(2), "#2a2ad0", false);
marker(yM(lastSignal), lastSignal.toFixed(3), "#2a2ae0", false);
marker(yM(lastMacd), lastMacd.toFixed(3), "#000", false);
marker(yM(lastMacd - lastSignal), (lastMacd - lastSignal).toFixed(3), "#3f6f33", false);

// ---------------- titles ----------------
const head = svg.append("text").attr("x", 17).attr("y", 15);
head.append("tspan").attr("font-size", 15).attr("font-weight", "bold").text("$WLSH");
head.append("tspan").attr("font-size", 11.5).attr("dx", 3).text("Wilshire 5000 Composite Index (full-cap)");
head.append("tspan").attr("font-size", 10).attr("dx", 4).text("INDX");
svg.append("text").attr("x", 17).attr("y", 27).attr("font-size", 11).text("3-Mar-2014");
svg.append("text").attr("x", R).attr("y", 13).attr("text-anchor", "end").attr("font-size", 10.5)
  .attr("fill", "#444").text("\u00a9StockCharts.com");

const ohlc = svg.append("text").attr("x", 1505).attr("y", 27).attr("text-anchor", "end").attr("font-size", 11);
[["Open", "19946.84"], ["High", "19946.84"], ["Low", "19676.85"], ["Close", lastPrice.toFixed(2)], ["Volume", "27.6M"], ["Chg", "-136.11 (-0.68%)"]]
  .forEach((p, i) => {
    ohlc.append("tspan").attr("font-weight", "bold").attr("dx", i ? 7 : 0).text(p[0]);
    ohlc.append("tspan").attr("dx", 4).text(p[1]);
  });
svg.append("path").attr("d", "M1508,22 L1515,22 L1511.5,27 Z").attr("fill", "#9a1030");

// pane captions
svg.append("path").attr("d", "M20,39 L22,33 L24,36 L26,31 L29,39 Z").attr("fill", "#5bb3a5").attr("stroke", "#2a2ad0").attr("stroke-width", 0.8);
svg.append("text").attr("class", "mono").attr("x", 31).attr("y", 40).attr("font-size", 10)
  .text("RSI(14) " + lastRsi.toFixed(2));

svg.append("path").attr("d", "M21,268 V261 M24,266 V259 M27,264 V258").attr("stroke", "#000").attr("stroke-width", 1);
svg.append("text").attr("class", "mono").attr("x", 31).attr("y", 267).attr("font-size", 10)
  .text("$WLSH (2 hour) " + lastPrice.toFixed(2));

svg.append("line").attr("x1", 20).attr("x2", 28).attr("y1", 922).attr("y2", 922).attr("stroke", "#000").attr("stroke-width", 2);
const mcap = svg.append("text").attr("class", "mono").attr("x", 32).attr("y", 926).attr("font-size", 10);
mcap.append("tspan").attr("fill", "#000").text("MACD(12,26,9) " + lastMacd.toFixed(3));
mcap.append("tspan").attr("fill", "#2424ff").text(", " + lastSignal.toFixed(3));
mcap.append("tspan").attr("fill", "#7cc36a").text(", " + (lastMacd - lastSignal).toFixed(3));
</script>
</body>
</html>
